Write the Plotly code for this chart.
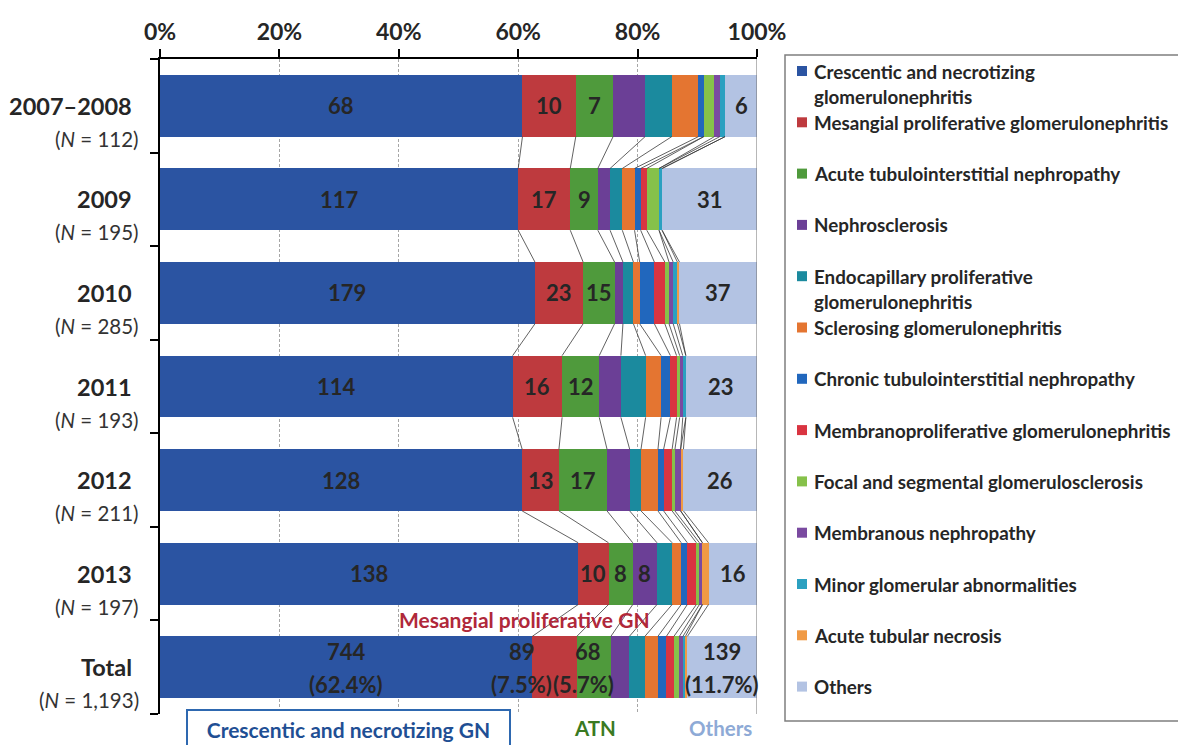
import plotly.graph_objects as go

# ---- data -------------------------------------------------------------
rows = ["2007–2008", "2009", "2010", "2011", "2012", "2013", "Total"]
row_n = ["112", "195", "285", "193", "211", "197", "1,193"]

crescentic      = [68, 117, 179, 114, 128, 138, 744]
mesangial       = [10, 17, 23, 16, 13, 10, 89]
acute_ti        = [7, 9, 15, 12, 17, 8, 68]
nephrosclerosis = [6, 4, 4, 7, 8, 8, 37]
endocapillary   = [5, 4, 5, 8, 4, 5, 31]
sclerosing      = [5, 4, 3, 5, 6, 3, 26]
chronic_ti      = [1, 2, 7, 3, 2, 2, 17]
mpgn            = [0, 2, 5, 2, 3, 3, 15]
fsgs            = [2, 4, 2, 1, 1, 1, 11]
membranous      = [1, 0, 2, 1, 2, 1, 7]
minor_abn       = [1, 1, 2, 1, 0, 0, 5]
atn             = [0, 0, 1, 0, 1, 2, 4]
others          = [6, 31, 37, 23, 26, 16, 139]

series = [crescentic, mesangial, acute_ti, nephrosclerosis, endocapillary,
          sclerosing, chronic_ti, mpgn, fsgs, membranous, minor_abn, atn, others]

legend_lines = [
    ["Crescentic and necrotizing", "glomerulonephritis"],
    ["Mesangial proliferative glomerulonephritis"],
    ["Acute tubulointerstitial nephropathy"],
    ["Nephrosclerosis"],
    ["Endocapillary proliferative", "glomerulonephritis"],
    ["Sclerosing glomerulonephritis"],
    ["Chronic tubulointerstitial nephropathy"],
    ["Membranoproliferative glomerulonephritis"],
    ["Focal and segmental glomerulosclerosis"],
    ["Membranous nephropathy"],
    ["Minor glomerular abnormalities"],
    ["Acute tubular necrosis"],
    ["Others"],
]

colors = ["#2b54a2", "#be3a3e", "#4f9a3c", "#6b3f96", "#1b8a9e", "#e47531",
          "#2167bd", "#d93441", "#86c14a", "#7a4aa0", "#2ba0c0", "#f09a45",
          "#b3c3e3"]

# which (series index, row index) segments carry a count label
labelled = {0: range(7), 1: range(7), 2: range(7), 3: [5], 12: range(7)}

# ---- geometry helpers ------------------------------------------------------
W, H = 1178, 745
ML, MR, MT, MB = 160, 421, 59, 31
PW, PH = W - ML - MR, H - MT - MB


def px_x(px):
    return (px - ML) / PW


def px_y(py):
    return 1 - (py - MT) / PH


FONT = "Lato, 'Open Sans', sans-serif"
TXT = "#262626"
BAR_W = 0.66

n_rows = len(rows)
row_tot = [sum(s[i] for s in series) for i in range(n_rows)]
pct = [[s[i] / row_tot[i] * 100 for i in range(n_rows)] for s in series]

cum = []  # cumulative right edge of each segment, per series
run = [0.0] * n_rows
for p in pct:
    run = [run[i] + p[i] for i in range(n_rows)]
    cum.append(run[:])

fig = go.Figure()
ypos = list(range(n_rows))

for k, p in enumerate(pct):
    fig.add_trace(go.Bar(
        x=p, y=ypos, orientation="h", width=BAR_W,
        marker=dict(color=colors[k], line=dict(width=0)),
        name=legend_lines[k][0], showlegend=False,
        hovertemplate="%{x:.1f}%<extra></extra>",
    ))

# series lines joining segment boundaries of neighbouring bars
lx, ly = [], []
for k in range(len(series) - 1):
    for i in range(n_rows - 1):
        lx += [cum[k][i], cum[k][i + 1], None]
        ly += [i + BAR_W / 2, i + 1 - BAR_W / 2, None]
fig.add_trace(go.Scatter(x=lx, y=ly, mode="lines", showlegend=False,
                         line=dict(color="#3a3a3a", width=0.8),
                         hoverinfo="skip"))

annotations = []

# counts inside the bars
for k, rws in labelled.items():
    for i in rws:
        val = series[k][i]
        xc = cum[k][i] - pct[k][i] / 2
        if rows[i] == "Total":
            shift = {1: -33, 2: -6}.get(k, 0)
            annotations.append(dict(x=xc, y=i, xref="x", yref="y", text=str(val),
                                    showarrow=False, yshift=16, xshift=shift,
                                    font=dict(family=FONT, size=22, color=TXT, weight="bold")))
            annotations.append(dict(x=xc, y=i, xref="x", yref="y",
                                    text=f"({val / row_tot[i] * 100:.1f}%)",
                                    showarrow=False, yshift=-17,
                                    xshift=shift - (4 if k == 2 else 0),
                                    font=dict(family=FONT, size=22, color=TXT, weight="bold")))
        else:
            annotations.append(dict(x=xc, y=i, xref="x", yref="y", text=str(val),
                                    showarrow=False,
                                    font=dict(family=FONT, size=22, color=TXT, weight="bold")))

# row labels on the left
for i, (r, n) in enumerate(zip(rows, row_n)):
    annotations.append(dict(x=px_x(134), y=i, xref="paper", yref="y", text=r,
                            xanchor="right", yanchor="middle", showarrow=False,
                            yshift=0,
                            font=dict(family=FONT, size=23.5, color=TXT, weight="bold")))
    annotations.append(dict(x=px_x(141), y=i, xref="paper", yref="y",
                            text=f"(<i>N</i> = {n})", xanchor="right",
                            yanchor="middle", showarrow=False, yshift=-33,
                            font=dict(family=FONT, size=20.5, color="#333333")))

# callouts
annotations.append(dict(x=px_x(524), y=px_y(619), xref="paper", yref="paper",
                        xanchor="center", yanchor="middle",
                        text="Mesangial proliferative GN", showarrow=False,
                        font=dict(family=FONT, size=21, color="#b0283a", weight="bold")))
annotations.append(dict(x=px_x(348.5), y=px_y(729), xref="paper", yref="paper",
                        xanchor="center", yanchor="middle",
                        text="Crescentic and necrotizing GN", showarrow=False,
                        width=317, height=32, borderpad=2,
                        bordercolor="#2e68b0", borderwidth=2, bgcolor="white",
                        font=dict(family=FONT, size=21, color="#1f4f94", weight="bold")))
annotations.append(dict(x=px_x(595), y=px_y(728), xref="paper", yref="paper",
                        xanchor="center", yanchor="middle",
                        text="ATN", showarrow=False,
                        font=dict(family=FONT, size=20.5, color="#3a7a22", weight="bold")))
annotations.append(dict(x=px_x(720), y=px_y(728), xref="paper", yref="paper",
                        xanchor="center", yanchor="middle",
                        text="Others", showarrow=False,
                        font=dict(family=FONT, size=20.5, color="#8eaad6", weight="bold")))

shapes = [
    # right-hand 100% line
    dict(type="line", xref="x", yref="paper", x0=100, x1=100, y0=0, y1=1,
         line=dict(color="#6e6e6e", width=1)),
    # legend frame
    dict(type="rect", xref="paper", yref="paper",
         x0=px_x(785), x1=px_x(1210), y0=px_y(55), y1=px_y(721),
         line=dict(color="#7f7f7f", width=1.5), fillcolor="rgba(0,0,0,0)"),
]

# legend entries
for k, lines in enumerate(legend_lines):
    y0 = 71 + 51.3 * k
    shapes.append(dict(type="rect", xref="paper", yref="paper",
                       xsizemode="pixel", ysizemode="pixel",
                       xanchor=px_x(802), yanchor=px_y(y0),
                       x0=-5, x1=5, y0=-5, y1=5,
                       fillcolor=colors[k], line=dict(width=0)))
    for j, line in enumerate(lines):
        annotations.append(dict(x=px_x(812), y=px_y(y0 + 25.5 * j), xref="paper",
                                yref="paper", text=line, xanchor="left",
                                yanchor="middle", showarrow=False,
                                font=dict(family=FONT, size=18.8, color=TXT,
                                          weight="bold")))

fig.update_layout(
    width=W, height=H,
    margin=dict(l=ML, r=MR, t=MT, b=MB),
    barmode="stack", bargap=0.34,
    plot_bgcolor="white", paper_bgcolor="white",
    showlegend=False,
    annotations=annotations, shapes=shapes,
    font=dict(family=FONT, color=TXT),
    xaxis=dict(side="top", range=[0, 100], tickvals=[0, 20, 40, 60, 80, 100],
               ticktext=["0%", "20%", "40%", "60%", "80%", "100%"],
               ticks="outside", ticklen=8, tickwidth=1.5, tickcolor="black",
               showline=True, linecolor="black", linewidth=1.5,
               showgrid=True, gridcolor="#a6a6a6", griddash="3px,2px", gridwidth=1,
               zeroline=False, fixedrange=True,
               tickfont=dict(family=FONT, size=23, color=TXT, weight="bold")),
    yaxis=dict(range=[n_rows - 0.5, -0.5],
               tickvals=[j - 0.5 for j in range(n_rows + 1)],
               showticklabels=False, ticks="outside", ticklen=8, tickwidth=1.5,
               tickcolor="black", showline=True, linecolor="black", linewidth=1.5,
               showgrid=False, zeroline=False, fixedrange=True),
)

fig.write_html("out.html")
